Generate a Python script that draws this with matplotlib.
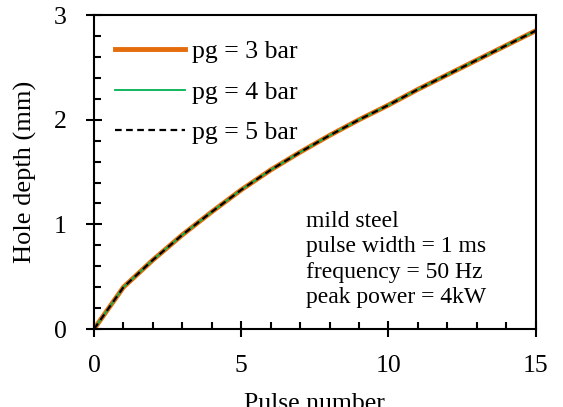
import matplotlib
matplotlib.use("Agg")
import matplotlib.pyplot as plt
from matplotlib.ticker import MultipleLocator

plt.rcParams['font.family'] = ['Liberation Serif', 'DejaVu Serif']

# pulse number vs hole depth (mm), all three gas pressures overlap
pulses = [0, 1, 2, 3, 4, 5, 6, 7, 8, 9, 10, 11, 12, 13, 14, 15]
depth_3bar = [0, 0.40, 0.66, 0.90, 1.12, 1.33, 1.52, 1.69, 1.85, 2.00, 2.14, 2.29, 2.43, 2.57, 2.71, 2.85]
depth_4bar = [0, 0.40, 0.66, 0.90, 1.12, 1.33, 1.52, 1.69, 1.85, 2.00, 2.14, 2.29, 2.43, 2.57, 2.71, 2.85]
depth_5bar = [0, 0.40, 0.66, 0.90, 1.12, 1.33, 1.52, 1.69, 1.85, 2.00, 2.14, 2.29, 2.43, 2.57, 2.71, 2.85]
labels = ["pg = 3 bar", "pg = 4 bar", "pg = 5 bar"]
note = "mild steel\npulse width = 1 ms\nfrequency = 50 Hz\npeak power = 4kW"

fig = plt.figure(figsize=(5.63, 4.07), dpi=100)
ax = fig.add_axes([0.167, 0.1916, 0.7845, 0.7714])

ax.plot(pulses, depth_3bar, color="#E46C0A", lw=3.5, label=labels[0])
ax.plot(pulses, depth_4bar, color="#00B050", lw=1.3, label=labels[1])
ax.plot(pulses, depth_5bar, color="black", lw=1.6, ls=(0, (3, 2)), label=labels[2])

ax.set_xlim(0, 15)
ax.set_ylim(0, 3)
ax.xaxis.set_major_locator(MultipleLocator(5))
ax.xaxis.set_minor_locator(MultipleLocator(1))
ax.yaxis.set_major_locator(MultipleLocator(1))
ax.yaxis.set_minor_locator(MultipleLocator(0.2))
ax.tick_params(which="major", direction="inout", length=11, width=1.5, labelsize=18.5)
ax.tick_params(axis="x", which="major", pad=13)
ax.tick_params(axis="y", which="major", pad=14)
ax.tick_params(which="minor", direction="in", length=5, width=1.5)
for s in ax.spines.values():
    s.set_linewidth(1.5)

ax.set_xlabel("Pulse number", fontsize=18.5, labelpad=11.5)
ax.set_ylabel("Hole depth (mm)", fontsize=19, labelpad=12.5)

ax.legend(loc="upper left", frameon=False, fontsize=18.5, handlelength=2.72,
          handletextpad=0.27, labelspacing=0.67, borderaxespad=0,
          bbox_to_anchor=(0.025, 0.952))

ax.text(0.48, 0.067, note, transform=ax.transAxes, fontsize=17,
        va="bottom", ha="left", linespacing=1.27)

fig.savefig("out.png", dpi=100)
